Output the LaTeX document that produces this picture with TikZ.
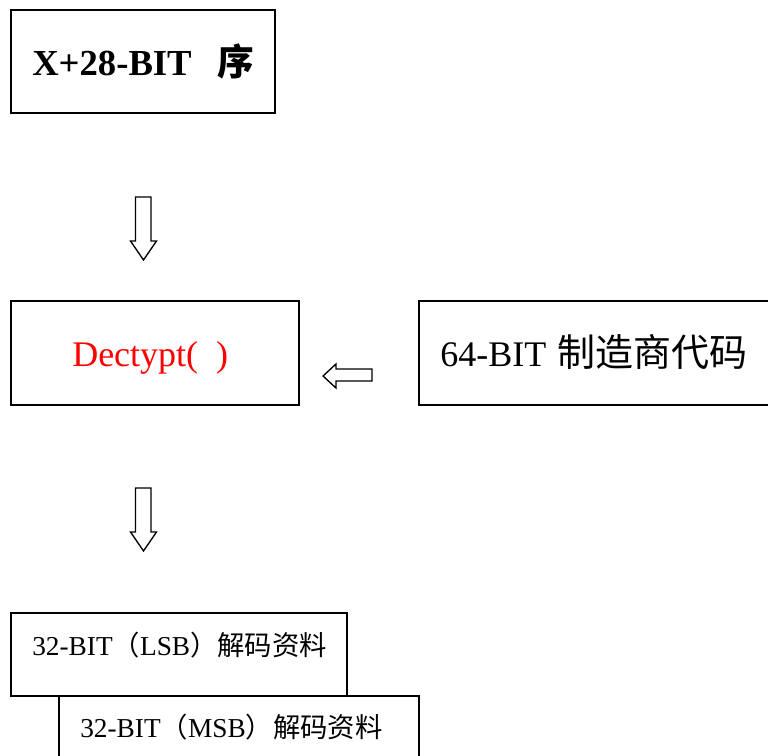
\documentclass[tikz,border=0pt]{standalone}
\usepackage{fontspec}
\setmainfont{Liberation Serif}
\newfontfamily\cjk{Noto Sans CJK SC}
\begin{document}
\begin{tikzpicture}[x=0.75pt,y=-0.75pt,
  box/.style={draw,line width=1.1pt},
  blockarrow/.style={draw,line width=1pt,fill=white,line join=miter},
  big/.style={font=\fontsize{27}{30}\selectfont,inner sep=0pt,anchor=base west},
  small/.style={font=\fontsize{20.5}{24}\selectfont,inner sep=0pt,anchor=base west}]
\useasboundingbox (0,0) rectangle (768,756);
\clip (0,0) rectangle (768,756);

% boxes
\draw[box] (11,10) coordinate (srcNW) rectangle (275,113) coordinate (srcSE);
\draw[box] (11,301) coordinate (decNW) rectangle (299,405) coordinate (decSE);
\draw[box] (419,301) coordinate (mfrNW) rectangle (800,405) coordinate (mfrSE);
\draw[box] (11,613) coordinate (lsbNW) rectangle (347,696) coordinate (lsbSE);
\draw[box] (59,696) coordinate (msbNW) rectangle (419,790) coordinate (msbSE);

% labels
\node[big,font=\fontsize{27.5}{30}\selectfont\bfseries] (src) at (32,76)
  {X+28-BIT\hspace{0.7em}{\cjk\bfseries 序}};
\node[big,text=red] (dec) at (72,366) {Dectypt(\hspace{0.5em})};
\node[big] (mfr) at (440,366)
  {64-BIT\hspace{0.3em}{\fontsize{28.5}{30}\selectfont\cjk 制造商代码}};
\node[small] (lsb) at (32,655) {32-BIT{\cjk （}LSB{\cjk ）解码资料}};
\node[small] (msb) at (80,737) {32-BIT{\cjk （}MSB{\cjk ）解码资料}};

% hollow block arrows
\draw[blockarrow] (135.5,197) -- (151,197) -- (151,241) -- (156.5,241)
  -- (143.5,260) -- (130.5,241) -- (135.5,241) -- cycle;
\draw[blockarrow] (135.5,488) -- (151,488) -- (151,532) -- (156.5,532)
  -- (143.5,551) -- (130.5,532) -- (135.5,532) -- cycle;
\draw[blockarrow] (372,369) -- (336,369) -- (336,364) -- (323,376)
  -- (336,388) -- (336,381) -- (372,381) -- cycle;
\end{tikzpicture}
\end{document}
